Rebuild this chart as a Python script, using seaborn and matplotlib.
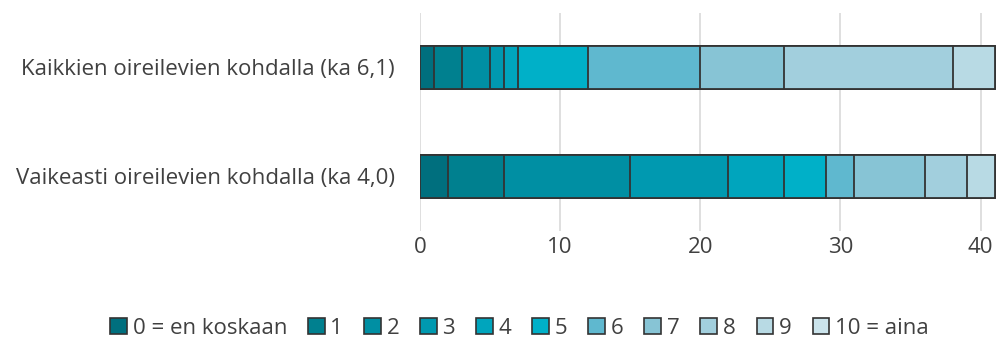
import matplotlib
matplotlib.use("Agg")
import matplotlib.pyplot as plt
from matplotlib.patches import Patch
import numpy as np
import pandas as pd
import seaborn as sns

# Response categories (0 = never ... 10 = always) and counts per group
categories = ["0 = en koskaan", "1", "2", "3", "4", "5", "6", "7", "8", "9", "10 = aina"]
groups = ["Kaikkien oireilevien kohdalla (ka 6,1)",
          "Vaikeasti oireilevien kohdalla (ka 4,0)"]
counts_all = [1, 2, 2, 1, 1, 5, 8, 6, 12, 3, 0]
counts_severe = [2, 4, 9, 7, 4, 3, 2, 5, 3, 2, 0]
x_ticks = [0, 10, 20, 30, 40]

colors = ["#006f7e", "#00808f", "#008fa3", "#0099b0", "#00a5bd", "#00b0c8",
          "#5fb8cf", "#87c4d5", "#a2cfdd", "#b8dae4", "#cbe4ec"]
edge = "#333333"
text_color = "#404040"

sns.set_theme(style="white")
plt.rcParams["font.family"] = ["Open Sans", "DejaVu Sans"]

cum = np.cumsum(np.array([counts_all, counts_severe]), axis=1)

fig = plt.figure(figsize=(9.99, 3.4), dpi=100)
ax = fig.add_axes([0.4204, 0.3206, 0.5766, 0.6412])

# Stacked bars: draw cumulative totals from the outermost segment inwards
for k in range(len(categories) - 1, -1, -1):
    df = pd.DataFrame({"group": groups, "value": cum[:, k]})
    sns.barplot(data=df, x="value", y="group", orient="h", ax=ax,
                color=colors[k], saturation=1, width=0.395,
                edgecolor=edge, linewidth=1.3)

ax.set_xlim(0, 41.1)
ax.set_ylim(1.5, -0.5)
ax.set_xticks(x_ticks)
ax.set_xlabel("")
ax.set_ylabel("")
ax.grid(axis="x", color="#d9d9d9", linewidth=1.2)
ax.set_axisbelow(True)
for s in ax.spines.values():
    s.set_visible(False)
ax.tick_params(axis="x", length=0, pad=4, labelsize=16, labelcolor=text_color)
ax.tick_params(axis="y", length=0, pad=18, labelsize=16, labelcolor=text_color)

handles = [Patch(facecolor=c, edgecolor=edge, linewidth=1.2) for c in colors]
fig.legend(handles, categories, loc="center", bbox_to_anchor=(0.52, 0.035),
           ncol=len(categories), frameon=False, fontsize=16,
           handlelength=0.75, handleheight=0.75, handletextpad=0.25,
           columnspacing=0.95, labelcolor=text_color)

fig.savefig("out.png", dpi=100)
